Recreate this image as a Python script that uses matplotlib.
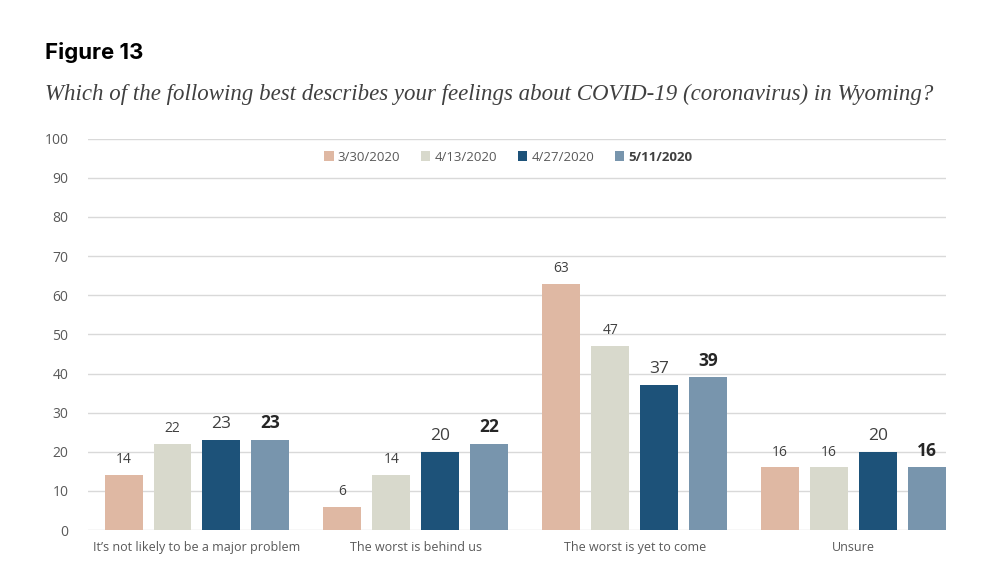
import numpy as np
import matplotlib.pyplot as plt

# ── Дані ──────────────────────────────────────────────────────────────────
categories = ["It\u2019s not likely to be a major problem", "The worst is behind us",
              "The worst is yet to come", "Unsure"]
dates = ["3/30/2020", "4/13/2020", "4/27/2020", "5/11/2020"]
v_0330 = [14, 6, 63, 16]
v_0413 = [22, 14, 47, 16]
v_0427 = [23, 20, 37, 20]
v_0511 = [23, 22, 39, 16]
series = [v_0330, v_0413, v_0427, v_0511]
colors = ["#dfb8a3", "#d8d9cc", "#1d5279", "#7895ad"]

plt.rcParams['font.family'] = ['Open Sans', 'DejaVu Sans']

fig = plt.figure(figsize=(10, 5.78), dpi=100)
fig.patch.set_facecolor('white')
ax = fig.add_axes([0.088, 0.083, 0.858, 0.677])

x = np.arange(len(categories))
step = 0.2237
width = 0.1735
grey = '#404040'
for k, (vals, col) in enumerate(zip(series, colors)):
    pos = x + (k - 1.5) * step
    ax.bar(pos, vals, width=width, color=col, zorder=3, label=dates[k])
    for p, v in zip(pos, vals):
        if k == 3:
            ax.text(p, v + 2, f'{v}', ha='center', va='bottom',
                    fontsize=12.5, fontweight='bold', color='#262626')
        elif k == 2:
            ax.text(p, v + 2, f'{v}', ha='center', va='bottom',
                    fontsize=12.5, color=grey)
        else:
            ax.text(p, v + 2, f'{v}', ha='center', va='bottom',
                    fontsize=10, color=grey)

ax.set_ylim(0, 100)
ax.set_xlim(-0.498, 3 + 1.5 * step + width / 2)
ax.set_yticks(np.arange(0, 101, 10))
ax.yaxis.grid(True, color='#d9d9d9', linewidth=1, zorder=0)
ax.set_axisbelow(True)
for s in ax.spines.values():
    s.set_visible(False)
ax.tick_params(axis='y', length=0, labelsize=10, labelcolor='#595959', pad=14)
ax.tick_params(axis='x', length=0, labelsize=9, labelcolor='#595959', pad=8)
ax.set_xticks(x)
ax.set_xticklabels(categories)

leg = ax.legend(loc='upper center', bbox_to_anchor=(0.49, 1.0), ncol=4,
                frameon=False, fontsize=9.5, handlelength=0.7, handleheight=0.7,
                handletextpad=0.3, columnspacing=1.6, labelcolor='#595959')
leg.get_texts()[3].set_fontweight('bold')
leg.get_texts()[3].set_color('#404040')

fig.text(0.045, 0.898, 'Figure 13', fontsize=16, fontweight='bold',
         family=['Inter', 'DejaVu Sans'], color='black')
fig.text(0.045, 0.827,
         'Which of the following best describes your feelings about COVID-19 (coronavirus) in Wyoming?',
         fontsize=16.5, style='italic', family=['Liberation Serif', 'DejaVu Serif'],
         color='#404040')

plt.savefig('out.png', dpi=100, facecolor='white')
